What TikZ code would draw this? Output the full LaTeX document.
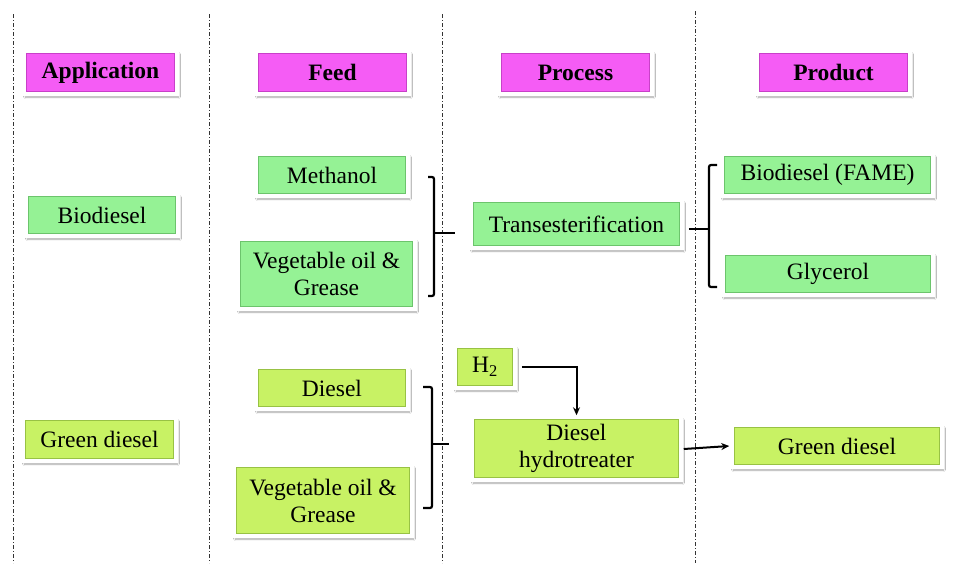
\documentclass[tikz,border=0pt]{standalone}
\usepackage{fontspec}
\setmainfont{Liberation Serif}
\usetikzlibrary{shadows.blur,arrows.meta}
\definecolor{magbox}{HTML}{F55CF5}
\definecolor{magedge}{HTML}{C840C8}
\definecolor{grnbox}{HTML}{95F295}
\definecolor{grnedge}{HTML}{6CC46C}
\definecolor{ylwbox}{HTML}{C8F264}
\definecolor{ylwedge}{HTML}{98C244}
\tikzset{
  basebox/.style={rectangle, draw=white, line width=3.5pt, align=center,
    inner sep=0pt, font=\fontsize{23.5}{27}\selectfont,
    blur shadow={shadow xshift=1.5pt, shadow yshift=-3pt, shadow blur steps=6, shadow opacity=35}},
  headbox/.style={basebox, fill=magbox, font=\fontsize{23.5}{27}\selectfont\bfseries,
    path picture={\draw[magedge,line width=5.5pt] (path picture bounding box.south west) rectangle (path picture bounding box.north east);}},
  gbox/.style={basebox, fill=grnbox,
    path picture={\draw[grnedge,line width=5.5pt] (path picture bounding box.south west) rectangle (path picture bounding box.north east);}},
  ybox/.style={basebox, fill=ylwbox,
    path picture={\draw[ylwedge,line width=5.5pt] (path picture bounding box.south west) rectangle (path picture bounding box.north east);}},
  sepline/.style={draw=black!80, line width=0.8pt, dash pattern=on 4pt off 2pt on 1pt off 2pt},
  bracket/.style={draw=black, line width=2.2pt, rounded corners=2pt},
  flow/.style={draw=black, line width=2pt, -{Stealth[length=8pt,width=7pt]}},
}
\begin{document}
\begin{tikzpicture}[x=1pt,y=-1pt]
\useasboundingbox[fill=white] (0,0) rectangle (958,563);

% separator lines
\coordinate (s1t) at (13,14);  \coordinate (s1b) at (13,563);
\coordinate (s2t) at (209,14); \coordinate (s2b) at (209,563);
\coordinate (s3t) at (442,14); \coordinate (s3b) at (442,563);
\coordinate (s4t) at (695,11); \coordinate (s4b) at (695,563);
\draw[sepline] (s1t) -- (s1b);
\draw[sepline] (s2t) -- (s2b);
\draw[sepline] (s3t) -- (s3b);
\draw[sepline] (s4t) -- (s4b);

% headers
\node[headbox, minimum width=153pt, minimum height=43pt] (happ)  at (100.5,72.5) {Application};
\node[headbox, minimum width=153pt, minimum height=43pt] (hfeed) at (332.5,72.5) {Feed};
\node[headbox, minimum width=153pt, minimum height=43pt] (hproc) at (575.5,72.5) {Process};
\node[headbox, minimum width=153pt, minimum height=43pt] (hprod) at (833.5,72.5) {Product};

% biodiesel row
\node[gbox, minimum width=152pt, minimum height=42pt] (bio)   at (102,215) {Biodiesel};
\node[gbox, minimum width=152pt, minimum height=42pt] (meth)  at (332,175) {Methanol};
\node[gbox, minimum width=177pt, minimum height=70pt] (veg1)  at (326.5,274) {Vegetable oil \&\\Grease};
\node[gbox, minimum width=211pt, minimum height=48pt] (trans) at (576.5,224) {Transesterification};
\node[gbox, minimum width=211pt, minimum height=42pt] (fame)  at (827.5,175) {Biodiesel (FAME)};
\node[gbox, minimum width=210pt, minimum height=42pt] (glyc)  at (828,274) {Glycerol};

% green diesel row
\node[ybox, minimum width=153pt, minimum height=43pt] (gd)    at (99.5,439.5) {Green diesel};
\node[ybox, minimum width=152pt, minimum height=42pt] (dies)  at (332,388) {Diesel};
\node[ybox, minimum width=178pt, minimum height=71pt] (veg2)  at (323,500.5) {Vegetable oil \&\\Grease};
\node[ybox, minimum width=60pt,  minimum height=42pt] (h2)    at (485,367) {H\textsubscript{2}};
\node[ybox, minimum width=209pt, minimum height=63pt] (hydro) at (576.5,448.5) {Diesel\\hydrotreater};
\node[ybox, minimum width=210pt, minimum height=42pt] (gdp)   at (837,446) {Green diesel};

% brackets
\coordinate (b1t) at (428,177); \coordinate (b1b) at (428,296);
\draw[bracket] (b1t) -- (434,177) -- (434,296) -- (b1b);
\draw[bracket, rounded corners=0pt] (434,233) -- ([xshift=-14pt]trans.west |- 0,233);

\coordinate (b2t) at (717,165); \coordinate (b2b) at (717,287);
\draw[bracket] (b2t) -- (709,165) -- (709,287) -- (b2b);
\draw[bracket, rounded corners=0pt] ([xshift=5pt]trans.east |- 0,229) -- (709,229);

\coordinate (b3t) at (423,387); \coordinate (b3b) at (423,508);
\draw[bracket] (b3t) -- (432,387) -- (432,508) -- (b3b);
\draw[bracket, rounded corners=0pt] (432,444) -- ([xshift=-21pt]hydro.west |- 0,444);

% arrows
\draw[flow] ([xshift=5pt]h2.east) -| (hydro.north);
\draw[flow] ([xshift=1pt,yshift=-0.5pt]hydro.east) -- ([xshift=-1pt]gdp.west);
\end{tikzpicture}
\end{document}
